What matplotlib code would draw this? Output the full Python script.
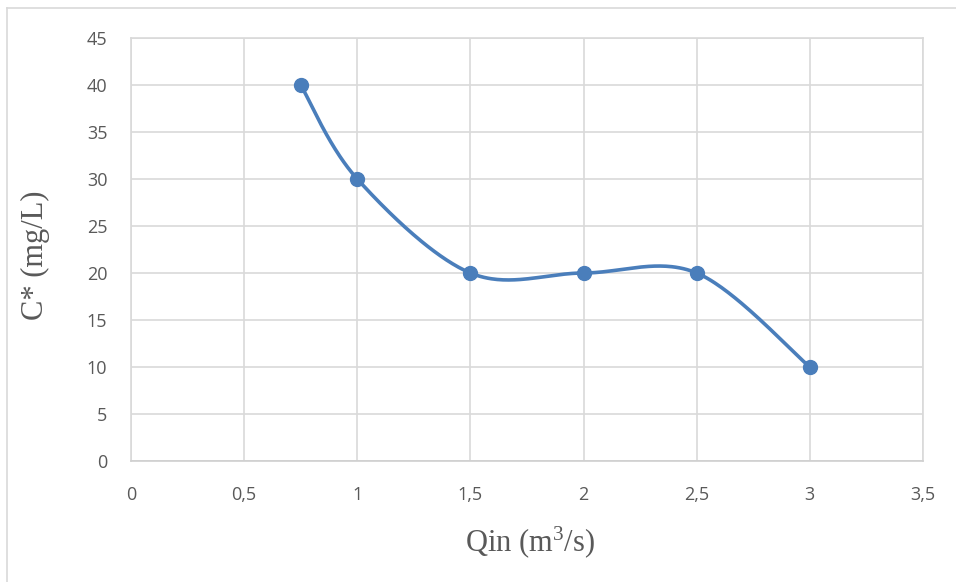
import numpy as np
import matplotlib
matplotlib.use("Agg")
import matplotlib.pyplot as plt
from matplotlib.ticker import FuncFormatter
from matplotlib.lines import Line2D

plt.rcParams["mathtext.fontset"] = "custom"
plt.rcParams["mathtext.rm"] = "Liberation Serif"
plt.rcParams["mathtext.it"] = "Liberation Serif:italic"
plt.rcParams["mathtext.bf"] = "Liberation Serif:bold"

# Data
qin = [0.75, 1.0, 1.5, 2.0, 2.5, 3.0]
cstar = [40, 30, 20, 20, 20, 10]
x_ticks = [0, 0.5, 1, 1.5, 2, 2.5, 3, 3.5]
y_ticks = [0, 5, 10, 15, 20, 25, 30, 35, 40, 45]


def catmull_rom(xs, ys, n=60):
    p = np.column_stack([xs, ys]).astype(float)
    p_ext = np.vstack([p[0], p, p[-1]])
    out = []
    for i in range(1, len(p_ext) - 2):
        p0, p1, p2, p3 = p_ext[i - 1], p_ext[i], p_ext[i + 1], p_ext[i + 2]
        c1 = p1 + (p2 - p0) / 6.0
        c2 = p2 - (p3 - p1) / 6.0
        t = np.linspace(0, 1, n)[:, None]
        seg = ((1 - t) ** 3) * p1 + 3 * ((1 - t) ** 2) * t * c1 + 3 * (1 - t) * t ** 2 * c2 + t ** 3 * p2
        out.append(seg if i == 1 else seg[1:])
    s = np.vstack(out)
    return s[:, 0], s[:, 1]


fig = plt.figure(figsize=(9.56, 5.82), dpi=100)
ax = fig.add_axes([131 / 956, 1 - 461 / 582, (923 - 131) / 956, (461 - 38) / 582])

color = "#4a7ebb"
sx, sy = catmull_rom(qin, cstar)
ax.plot(sx, sy, color=color, lw=2.6, solid_capstyle="round", zorder=3)
ax.plot(qin, cstar, "o", color=color, ms=10, zorder=4)

ax.set_xlim(0, 3.5)
ax.set_ylim(0, 45)
ax.set_xticks(x_ticks)
ax.set_yticks(y_ticks)
fmt = FuncFormatter(lambda v, p: ("%g" % v).replace(".", ","))
ax.xaxis.set_major_formatter(fmt)
ax.yaxis.set_major_formatter(fmt)

ax.grid(True, color="#d9d9d9", lw=1.2)
ax.set_axisbelow(True)
for s in ax.spines.values():
    s.set_color("#d9d9d9")
    s.set_linewidth(1.2)
ax.spines["bottom"].set_color("#cfcfcf")

ax.tick_params(length=0, colors="#595959", labelsize=13)
ax.tick_params(axis="x", pad=18)
ax.tick_params(axis="y", pad=17)
for lab in ax.get_xticklabels() + ax.get_yticklabels():
    lab.set_fontfamily("Open Sans")

fig.text(35 / 956, 1 - 255 / 582, "C* (mg/L)", rotation=90, ha="center", va="center",
         fontsize=22, family="Liberation Serif", color="#595959")
fig.text(530 / 956, 1 - 542 / 582, r"Qin (m$^{\mathrm{3}}$/s)", ha="center", va="center",
         fontsize=22, family="Liberation Serif", color="#595959")

# chart frame (partially visible)
fig.add_artist(Line2D([7 / 956, 1.0], [1 - 8 / 582, 1 - 8 / 582], transform=fig.transFigure,
                      color="#d9d9d9", lw=1.2))
fig.add_artist(Line2D([7 / 956, 7 / 956], [0, 1 - 8 / 582], transform=fig.transFigure,
                      color="#d9d9d9", lw=1.2))

fig.savefig("out.png", dpi=100)
